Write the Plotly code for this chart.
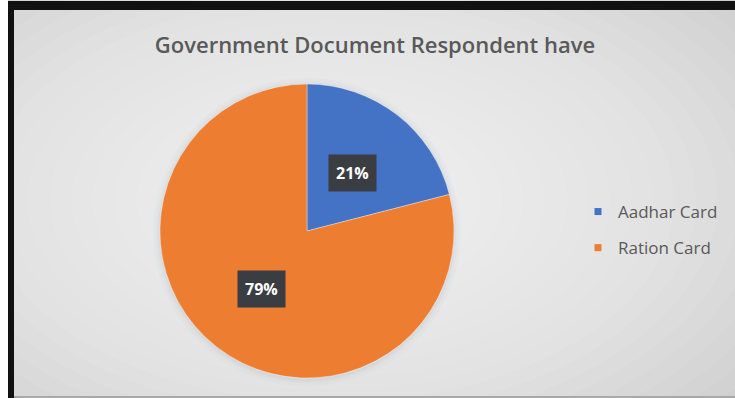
import math
import plotly.graph_objects as go

# Data
labels = ["Aadhar Card", "Ration Card"]
values = [21, 79]
colors = ["#4472C4", "#ED7D31"]
title_text = "Government Document Respondent have"

W, H = 735, 398
cx, cy, R = 307, 231, 147  # pie centre / radius in pixels (origin top-left)


def fx(x):
    return x / W


def fy(y):
    return 1 - y / H


fig = go.Figure()
fig.add_trace(
    go.Pie(
        labels=labels,
        values=values,
        sort=False,
        direction="clockwise",
        rotation=0,
        marker=dict(colors=colors, line=dict(color="rgba(255,255,255,0.6)", width=0.6)),
        textinfo="none",
        hoverinfo="label+percent",
        showlegend=False,
        domain=dict(x=[fx(cx - R), fx(cx + R)], y=[fy(cy + R), fy(cy - R)]),
    )
)

# Legend entries (small square keys, one group each so they can be spaced apart)
for lab, col in zip(labels, colors):
    fig.add_trace(go.Scatter(
        x=[None], y=[None], mode="markers", name=lab, legendgroup=lab,
        marker=dict(symbol="square", size=7, color=col),
        hoverinfo="skip",
    ))

shapes = []
# Soft radial background: grey base brightened by stacked translucent ellipses
shapes.append(dict(type="rect", xref="paper", yref="paper", x0=0, x1=1, y0=0, y1=1,
                   fillcolor="#c9c9c9", line_width=0, layer="below"))
n = 26
gx, gy = 330, 200
for i in range(n):
    t = 1 - i / n
    rx, ry = 560 * t, 330 * t
    shapes.append(dict(type="circle", xref="paper", yref="paper",
                       x0=fx(gx - rx), x1=fx(gx + rx), y0=fy(gy + ry), y1=fy(gy - ry),
                       fillcolor="rgba(255,255,255,0.064)", line_width=0, layer="below"))

# faint shadow around the pie
for k, a in [(7, 0.04), (4, 0.05), (2, 0.06)]:
    shapes.append(dict(type="circle", xref="paper", yref="paper",
                       x0=fx(cx - R - k), x1=fx(cx + R + k), y0=fy(cy + R + k + 1), y1=fy(cy - R - k + 1),
                       fillcolor=f"rgba(140,150,170,{a})", line_width=0, layer="below"))

# Dark frame along the left and top edges
shapes.append(dict(type="rect", xref="paper", yref="paper", x0=fx(8), x1=fx(14), y0=0, y1=fy(3),
                   fillcolor="#111111", line_width=0, layer="above"))
shapes.append(dict(type="rect", xref="paper", yref="paper", x0=fx(8), x1=1, y0=fy(10), y1=fy(1),
                   fillcolor="#111111", line_width=0, layer="above"))
shapes.append(dict(type="rect", xref="paper", yref="paper", x0=0, x1=fx(8), y0=0, y1=1,
                   fillcolor="#ffffff", line_width=0, layer="above"))
shapes.append(dict(type="rect", xref="paper", yref="paper", x0=fx(14), x1=1, y0=0, y1=fy(396),
                   fillcolor="#a8a8a8", line_width=0, layer="above"))

# Percentage labels at the middle of each slice
annotations = []
total = sum(values)
start = 0
for v in values:
    mid = math.radians((start + v / 2) / total * 360)
    start += v
    lx = cx + 0.5 * R * math.sin(mid)
    ly = cy - 0.5 * R * math.cos(mid)
    annotations.append(dict(
        x=fx(lx), y=fy(ly), xref="paper", yref="paper",
        text=f"<b>{round(100 * v / total)}%</b>", showarrow=False,
        font=dict(family="Open Sans", size=16, color="white"),
        bgcolor="#3a3d41", borderpad=7, xanchor="center", yanchor="middle",
    ))

fig.update_layout(
    width=W, height=H,
    margin=dict(l=0, r=0, t=0, b=0),
    paper_bgcolor="#d0d0d0",
    plot_bgcolor="rgba(0,0,0,0)",
    xaxis=dict(visible=False),
    yaxis=dict(visible=False),
    shapes=shapes,
    annotations=annotations,
    title=dict(text=title_text, x=fx(375), y=fy(45), xanchor="center", yanchor="middle",
               font=dict(family="Open Sans", size=22, color="#595959", weight=600)),
    legend=dict(x=fx(578), y=fy(230), xanchor="left", yanchor="middle",
                font=dict(family="Open Sans", size=17, color="#595959"),
                bgcolor="rgba(0,0,0,0)", tracegroupgap=11),
    showlegend=True,
)

fig.write_html("out.html")
